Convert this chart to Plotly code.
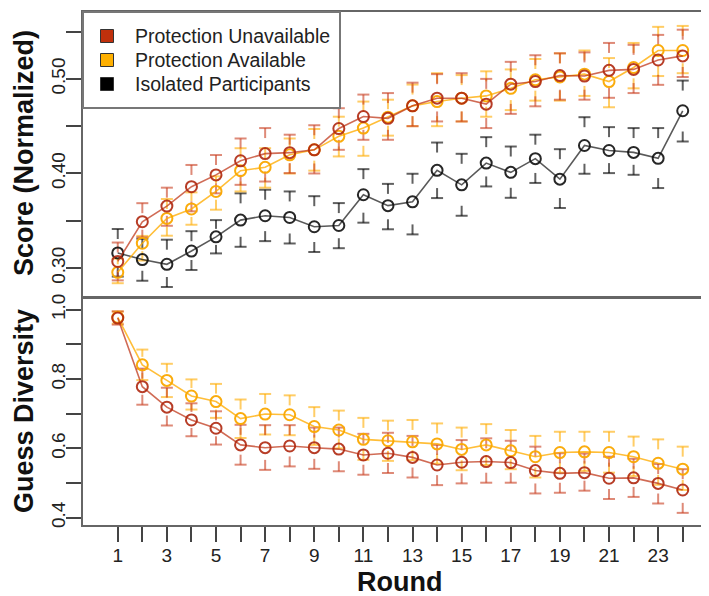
import plotly.graph_objects as go

# ---------------- data ----------------
rounds = list(range(1, 25))

# Top panel: Score (Normalized)
score_unavail = [0.307, 0.349, 0.3655, 0.386, 0.3985, 0.4134, 0.421, 0.422, 0.425, 0.4475,
                 0.4602, 0.4583, 0.4715, 0.4796, 0.4796, 0.4733, 0.4944, 0.4972, 0.5035, 0.503,
                 0.509, 0.510, 0.520, 0.5243]
score_unavail_hi = [0.327, 0.3686, 0.385, 0.409, 0.4195, 0.437, 0.448, 0.441, 0.451, 0.469,
                    0.4834, 0.485, 0.496, 0.505, 0.506, 0.500, 0.518, 0.525, 0.527, 0.528,
                    0.538, 0.536, 0.5465, 0.552]
score_unavail_lo = [0.287, 0.3325, 0.3447, 0.360, 0.379, 0.388, 0.3915, 0.4004, 0.400, 0.425,
                    0.4356, 0.4356, 0.450, 0.455, 0.455, 0.448, 0.463, 0.471, 0.478, 0.478,
                    0.480, 0.485, 0.4937, 0.502]

score_avail = [0.2955, 0.3263, 0.3525, 0.3625, 0.381, 0.403, 0.4065, 0.4197, 0.425, 0.4393,
               0.448, 0.4595, 0.4715, 0.476, 0.4796, 0.482, 0.490, 0.499, 0.502, 0.505,
               0.4972, 0.512, 0.530, 0.530]
score_avail_hi = [0.310, 0.334, 0.373, 0.380, 0.397, 0.4267, 0.4267, 0.437, 0.447, 0.460,
                  0.476, 0.478, 0.494, 0.506, 0.504, 0.508, 0.510, 0.521, 0.527, 0.530,
                  0.522, 0.538, 0.555, 0.556]
score_avail_lo = [0.284, 0.308, 0.3342, 0.3458, 0.3617, 0.381, 0.385, 0.400, 0.403, 0.418,
                  0.4187, 0.440, 0.450, 0.450, 0.455, 0.460, 0.467, 0.477, 0.477, 0.482,
                  0.470, 0.490, 0.503, 0.506]

score_isolated = [0.316, 0.309, 0.304, 0.318, 0.333, 0.3507, 0.3553, 0.3535, 0.3437, 0.345,
                  0.3775, 0.366, 0.370, 0.4033, 0.388, 0.411, 0.4012, 0.4157, 0.394, 0.4296,
                  0.4243, 0.4223, 0.416, 0.4663]
score_isolated_hi = [0.3413, 0.331, 0.330, 0.339, 0.3507, 0.379, 0.3828, 0.381, 0.376, 0.3687,
                     0.4046, 0.389, 0.3997, 0.4327, 0.4208, 0.4384, 0.4285, 0.441, 0.4257, 0.4595,
                     0.449, 0.448, 0.448, 0.4982]
score_isolated_lo = [0.291, 0.2866, 0.280, 0.298, 0.3155, 0.3225, 0.3285, 0.326, 0.317, 0.321,
                     0.348, 0.341, 0.3356, 0.374, 0.3553, 0.3863, 0.3743, 0.390, 0.3635, 0.3997,
                     0.4004, 0.3986, 0.3846, 0.4338]

# Bottom panel: Guess Diversity
div_unavail = [0.976, 0.778, 0.719, 0.682, 0.658, 0.610, 0.602, 0.607, 0.602, 0.598,
               0.581, 0.586, 0.574, 0.552, 0.560, 0.562, 0.559, 0.536, 0.528, 0.530,
               0.514, 0.515, 0.499, 0.480]
div_unavail_hi = [0.995, 0.830, 0.775, 0.730, 0.707, 0.668, 0.667, 0.667, 0.660, 0.660,
                  0.642, 0.645, 0.636, 0.610, 0.624, 0.629, 0.622, 0.605, 0.586, 0.585,
                  0.576, 0.570, 0.555, 0.540]
div_unavail_lo = [0.957, 0.726, 0.666, 0.635, 0.611, 0.553, 0.538, 0.548, 0.541, 0.534,
                  0.524, 0.529, 0.516, 0.494, 0.499, 0.501, 0.501, 0.470, 0.472, 0.478,
                  0.454, 0.460, 0.441, 0.414]

div_avail = [0.978, 0.841, 0.796, 0.751, 0.735, 0.686, 0.699, 0.697, 0.663, 0.653,
             0.626, 0.622, 0.619, 0.613, 0.597, 0.610, 0.593, 0.576, 0.588, 0.590,
             0.588, 0.576, 0.557, 0.540]
div_avail_hi = [0.995, 0.885, 0.844, 0.799, 0.786, 0.741, 0.757, 0.753, 0.719, 0.709,
                0.688, 0.680, 0.682, 0.672, 0.660, 0.670, 0.653, 0.636, 0.648, 0.648,
                0.648, 0.634, 0.626, 0.605]
div_avail_lo = [0.960, 0.797, 0.748, 0.712, 0.688, 0.630, 0.640, 0.638, 0.610, 0.600,
                0.567, 0.564, 0.566, 0.556, 0.537, 0.552, 0.540, 0.516, 0.530, 0.535,
                0.530, 0.520, 0.495, 0.480]

x_tick_vals = list(range(1, 25))
x_tick_text = [str(r) if r % 2 == 1 else "" for r in x_tick_vals]
score_tick_vals = [0.30, 0.35, 0.40, 0.45, 0.50, 0.55]
score_tick_text = ["0.30", "", "0.40", "", "0.50", ""]
div_tick_vals = [0.4, 0.5, 0.6, 0.7, 0.8, 0.9, 1.0]
div_tick_text = ["0.4", "", "0.6", "", "0.8", "", "1.0"]

legend_names = ["Protection Unavailable", "Protection Available", "Isolated Participants"]
title_score = "Score (Normalized)"
title_div = "Guess Diversity"
title_round = "Round"

# ---------------- layout / style ----------------
OFF = 8                      # page body margin of the html page
W, H = 709 - OFF, 596 - OFF  # figure size so the page fits the window
PLOT_L, PLOT_R, PLOT_T, PLOT_B = 83, 709, 12, 525   # screen px of the plotting area
M_L, M_R = PLOT_L - OFF, (709 - OFF) - (PLOT_R - OFF)
M_T, M_B = PLOT_T - OFF, H - (PLOT_B - OFF)
TOP_DOMAIN = [0.4444, 1.0]
BOT_DOMAIN = [0.0, 0.4425]
X_RANGE = [-0.415, 25.07]
TOP_RANGE = [0.2694, 0.5707]
BOT_RANGE = [0.379, 1.0338]
FONT = "Liberation Sans, Arial, Helvetica, sans-serif"

RED_LINE = "rgba(190,50,20,0.72)"
RED_MARK = "rgba(175,40,15,0.9)"
RED_ERR = "rgba(200,60,30,0.6)"
YEL_LINE = "rgba(255,172,0,0.78)"
YEL_MARK = "rgba(250,168,0,0.95)"
YEL_ERR = "rgba(255,172,0,0.6)"
BLK_LINE = "rgba(0,0,0,0.65)"
BLK_MARK = "rgba(15,15,15,0.9)"
BLK_ERR = "rgba(0,0,0,0.62)"
LEG_COLORS = ["#c0300c", "#ffb000", "#000000"]

plot_w = W - M_L - M_R
plot_h = H - M_T - M_B
px_per_x = plot_w / (X_RANGE[1] - X_RANGE[0])


def px_per_y(domain, rng):
    return plot_h * (domain[1] - domain[0]) / (rng[1] - rng[0])


def paper_x(sx):  # screen px -> paper
    return (sx - OFF - M_L) / plot_w


def paper_y(sy):
    return (H - M_B - (sy - OFF)) / plot_h


CAP_PX, STEM_PX, GAP_PX = 12, 10, 8


def errbar_xy(xs, means, his, los, ppu):
    hw = CAP_PX / 2 / px_per_x
    X, Y = [], []
    for x, m, hi, lo in zip(xs, means, his, los):
        for cap, sign in ((hi, -1), (lo, 1)):
            X += [x - hw, x + hw, None]
            Y += [cap, cap, None]
            dist = abs(cap - m) * ppu
            stem = min(STEM_PX, max(0.0, dist - GAP_PX))
            if stem > 0:
                X += [x, x, None]
                Y += [cap, cap + sign * stem / ppu, None]
    return X, Y


fig = go.Figure()

ppu_top = px_per_y(TOP_DOMAIN, TOP_RANGE)
ppu_bot = px_per_y(BOT_DOMAIN, BOT_RANGE)

top_series = [
    (score_isolated, score_isolated_hi, score_isolated_lo, BLK_LINE, BLK_MARK, BLK_ERR),
    (score_avail, score_avail_hi, score_avail_lo, YEL_LINE, YEL_MARK, YEL_ERR),
    (score_unavail, score_unavail_hi, score_unavail_lo, RED_LINE, RED_MARK, RED_ERR),
]
bot_series = [
    (div_avail, div_avail_hi, div_avail_lo, YEL_LINE, YEL_MARK, YEL_ERR),
    (div_unavail, div_unavail_hi, div_unavail_lo, RED_LINE, RED_MARK, RED_ERR),
]

for series, xa, ya, ppu in ((top_series, "x", "y", ppu_top), (bot_series, "x2", "y2", ppu_bot)):
    for means, his, los, lc, mc, ec in series:
        ex, ey = errbar_xy(rounds, means, his, los, ppu)
        fig.add_trace(go.Scatter(x=ex, y=ey, mode="lines", xaxis=xa, yaxis=ya,
                                 line=dict(color=ec, width=2), showlegend=False,
                                 hoverinfo="skip"))
    for means, his, los, lc, mc, ec in series:
        fig.add_trace(go.Scatter(x=rounds, y=means, mode="lines+markers", xaxis=xa, yaxis=ya,
                                 line=dict(color=lc, width=1.6),
                                 marker=dict(symbol="circle-open", size=11,
                                             line=dict(color=mc, width=2), color=mc),
                                 showlegend=False))

axis_line = dict(showline=True, linecolor="#666666", linewidth=2, showgrid=False,
                 zeroline=False, automargin=False)

title_font = dict(family=FONT, size=27, weight="bold", color="#111111")
annotations = [
    dict(text=title_score, xref="paper", yref="paper", x=paper_x(24), y=paper_y(153),
         textangle=-90, showarrow=False, font=title_font, xanchor="center", yanchor="middle"),
    dict(text=title_div, xref="paper", yref="paper", x=paper_x(24), y=paper_y(411),
         textangle=-90, showarrow=False, font=title_font, xanchor="center", yanchor="middle"),
    dict(text=title_round, xref="paper", yref="paper", x=paper_x(399), y=paper_y(582),
         showarrow=False, font=title_font, xanchor="center", yanchor="middle",
         height=26, borderpad=0, valign="middle"),
]

# legend box (drawn as shapes + text, positioned in screen px)
LEG_BOX = (83, 12, 340, 108)
LEG_ROWS = [36, 60, 84]
LEG_SQ_X, LEG_SQ = 107, 13
LEG_TEXT_X = 133
shapes = [dict(type="rect", xref="paper", yref="paper",
               x0=paper_x(LEG_BOX[0]), x1=paper_x(LEG_BOX[2]),
               y0=paper_y(LEG_BOX[3]), y1=paper_y(LEG_BOX[1]),
               fillcolor="white", line=dict(color="#777777", width=2), layer="above")]
for name, col, ry in zip(legend_names, LEG_COLORS, LEG_ROWS):
    shapes.append(dict(type="rect", xref="paper", yref="paper",
                       x0=paper_x(LEG_SQ_X - LEG_SQ / 2), x1=paper_x(LEG_SQ_X + LEG_SQ / 2),
                       y0=paper_y(ry + LEG_SQ / 2), y1=paper_y(ry - LEG_SQ / 2),
                       fillcolor=col, line=dict(color="#333333", width=1), layer="above"))
    annotations.append(dict(text=name, xref="paper", yref="paper",
                            x=paper_x(LEG_TEXT_X), y=paper_y(ry), showarrow=False,
                            xanchor="left", yanchor="middle",
                            font=dict(family=FONT, size=19.5, color="#222222")))

fig.update_layout(
    width=W, height=H,
    margin=dict(l=M_L, r=M_R, t=M_T, b=M_B, pad=0, autoexpand=False),
    paper_bgcolor="white", plot_bgcolor="white",
    font=dict(family=FONT, size=19, color="#222222"),
    showlegend=False,
    annotations=annotations,
    shapes=shapes,
    xaxis=dict(domain=[0, 1], range=X_RANGE, anchor="y", mirror=True,
               ticks="", showticklabels=False, **axis_line),
    yaxis=dict(domain=TOP_DOMAIN, range=TOP_RANGE, anchor="x",
               tickvals=score_tick_vals, ticktext=score_tick_text,
               ticks="outside", ticklen=15, tickwidth=1.5, tickcolor="#444444",
               tickangle=-90, tickfont=dict(size=19), ticklabelstandoff=-7,
               **axis_line),
    xaxis2=dict(domain=[0, 1], range=X_RANGE, anchor="y2", mirror=True,
                tickvals=x_tick_vals, ticktext=x_tick_text,
                ticks="outside", ticklen=15, tickwidth=1.5, tickcolor="#444444",
                tickfont=dict(size=19), ticklabelstandoff=-3,
                **axis_line),
    yaxis2=dict(domain=BOT_DOMAIN, range=BOT_RANGE, anchor="x2",
                tickvals=div_tick_vals, ticktext=div_tick_text,
                ticks="outside", ticklen=15, tickwidth=1.5, tickcolor="#444444",
                tickangle=-90, tickfont=dict(size=19), ticklabelstandoff=-7,
                **axis_line),
)

fig.write_html("out.html")
